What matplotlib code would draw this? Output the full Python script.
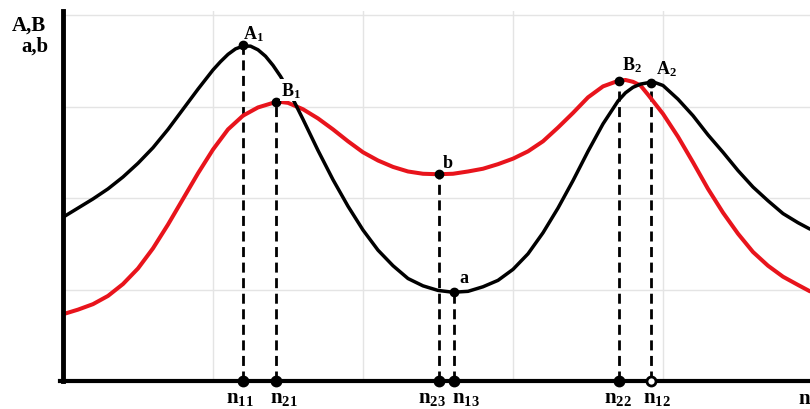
import matplotlib
matplotlib.use("Agg")
import matplotlib.pyplot as plt

# curve samples (x: n axis, y: A,B / a,b)
black_x = [0.0, 0.1, 0.2, 0.3, 0.4, 0.5, 0.6, 0.7, 0.8, 0.9, 1.0, 1.05, 1.1, 1.15,
           1.2, 1.25, 1.3, 1.35, 1.4, 1.45, 1.5, 1.6, 1.7, 1.8, 1.9, 2.0, 2.1,
           2.2, 2.3, 2.4, 2.5, 2.6, 2.7, 2.8, 2.9, 3.0, 3.1, 3.2, 3.3, 3.4, 3.5,
           3.6, 3.7, 3.75, 3.8, 3.85, 3.9, 3.95, 4.0, 4.1, 4.2, 4.3, 4.4, 4.5,
           4.6, 4.7, 4.8, 4.9, 4.98]
black_y = [1.79, 1.89, 1.99, 2.10, 2.23, 2.38, 2.55, 2.75, 2.97, 3.19, 3.40, 3.49,
           3.57, 3.63, 3.66, 3.66, 3.62, 3.55, 3.45, 3.33, 3.19, 2.86, 2.52, 2.20,
           1.91, 1.65, 1.43, 1.26, 1.12, 1.04, 0.99, 0.97, 0.98, 1.03, 1.10, 1.22,
           1.39, 1.62, 1.89, 2.19, 2.51, 2.81, 3.06, 3.15, 3.21, 3.245, 3.26, 3.26,
           3.23, 3.08, 2.90, 2.69, 2.50, 2.30, 2.12, 1.97, 1.83, 1.73, 1.66]

red_x = [0.0, 0.1, 0.2, 0.3, 0.4, 0.5, 0.6, 0.7, 0.8, 0.9, 1.0, 1.1, 1.2, 1.3,
         1.4, 1.45, 1.5, 1.6, 1.7, 1.8, 1.9, 2.0, 2.1, 2.2, 2.3, 2.4, 2.5, 2.6,
         2.7, 2.8, 2.9, 3.0, 3.1, 3.2, 3.3, 3.4, 3.5, 3.6, 3.7, 3.75, 3.8, 3.85,
         3.9, 4.0, 4.1, 4.2, 4.3, 4.4, 4.5, 4.6, 4.7, 4.8, 4.9, 4.98]
red_y = [0.73, 0.78, 0.84, 0.93, 1.06, 1.23, 1.45, 1.71, 1.99, 2.27, 2.53, 2.75,
         2.90, 2.99, 3.04, 3.05, 3.04, 2.97, 2.87, 2.75, 2.62, 2.50, 2.41, 2.34,
         2.29, 2.265, 2.26, 2.265, 2.29, 2.32, 2.37, 2.43, 2.51, 2.62, 2.77, 2.93,
         3.10, 3.22, 3.28, 3.29, 3.27, 3.23, 3.13, 2.92, 2.67, 2.39, 2.10, 1.84,
         1.61, 1.41, 1.26, 1.14, 1.05, 0.98]

# marked extremes
point_labels = ["A$_1$", "B$_1$", "b", "a", "B$_2$", "A$_2$"]
point_x = [1.20, 1.42, 2.51, 2.61, 3.71, 3.92]
point_y = [3.67, 3.05, 2.26, 0.97, 3.28, 3.26]
axis_labels = ["n$_{11}$", "n$_{21}$", "n$_{23}$", "n$_{13}$", "n$_{22}$", "n$_{12}$"]

plt.rcParams["font.family"] = "Liberation Serif"
plt.rcParams["font.weight"] = "bold"
plt.rcParams["mathtext.fontset"] = "custom"
plt.rcParams["mathtext.rm"] = "Liberation Serif:bold"
plt.rcParams["mathtext.it"] = "Liberation Serif:bold"
plt.rcParams["mathtext.bf"] = "Liberation Serif:bold"

fig = plt.figure(figsize=(8.1, 4.1), dpi=100)
ax = fig.add_axes([63 / 810, 28 / 410, 747 / 810, 370 / 410])
ax.set_xlim(0, 4.98)
ax.set_ylim(0, 4.044)

ax.set_xticks([1, 2, 3, 4])
ax.set_yticks([1, 2, 3, 4])
ax.tick_params(length=0, labelbottom=False, labelleft=False)
ax.grid(color="#e4e4e4", lw=1)
ax.set_axisbelow(True)
for side in ("top", "right"):
    ax.spines[side].set_visible(False)
ax.spines["left"].set_linewidth(3.5)
ax.spines["bottom"].set_linewidth(3)
ax.spines["bottom"].set_bounds(-0.02, 4.98)

ax.plot(black_x, black_y, color="black", lw=2.5, solid_joinstyle="round",
        solid_capstyle="round", zorder=3)
ax.plot(red_x, red_y, color="#e8141c", lw=2.9, solid_joinstyle="round",
        solid_capstyle="round", zorder=2)

ax.vlines(point_x, 0, point_y, colors="black", lw=2,
          linestyles=(0, (3.6, 2.0)), zorder=1)
ax.plot(point_x, point_y, "o", color="black", ms=6, zorder=4)

hollow = [False, False, False, False, False, True]
for x, h in zip(point_x, hollow):
    ax.plot([x], [0], "o", ms=6.5, mec="black", mew=2,
            mfc="white" if h else "black", clip_on=False, zorder=5)

label_offsets = [(10, 12), (15, 12), (8, 12), (9, 15), (12, 17), (15, 15)]
for lab, x, y, off in zip(point_labels, point_x, point_y, label_offsets):
    t = ax.annotate(lab, (x, y), xytext=off, textcoords="offset pixels",
                    ha="center", va="center", fontsize=13, fontweight="bold",
                    zorder=6)
    if lab == "B$_1$":
        t.set_bbox(dict(facecolor="white", edgecolor="none", pad=0.5))

n_offsets = [-3, 8, -8, 11, -2, 6]
for lab, x, dx in zip(axis_labels, point_x, n_offsets):
    ax.annotate(lab, (x, 0), xytext=(dx, -16), textcoords="offset pixels",
                ha="center", va="center", fontsize=15, annotation_clip=False)
fig.text(798 / 810, 11 / 410, "n", ha="left", va="center", fontsize=15,
         fontweight="bold")

fig.text(46 / 810, 1 - 26 / 410, "A,B", ha="right", va="center", fontsize=15,
         fontweight="bold")
fig.text(48 / 810, 1 - 47 / 410, "a,b", ha="right", va="center", fontsize=15,
         fontweight="bold")

fig.savefig("out.png", dpi=100)
